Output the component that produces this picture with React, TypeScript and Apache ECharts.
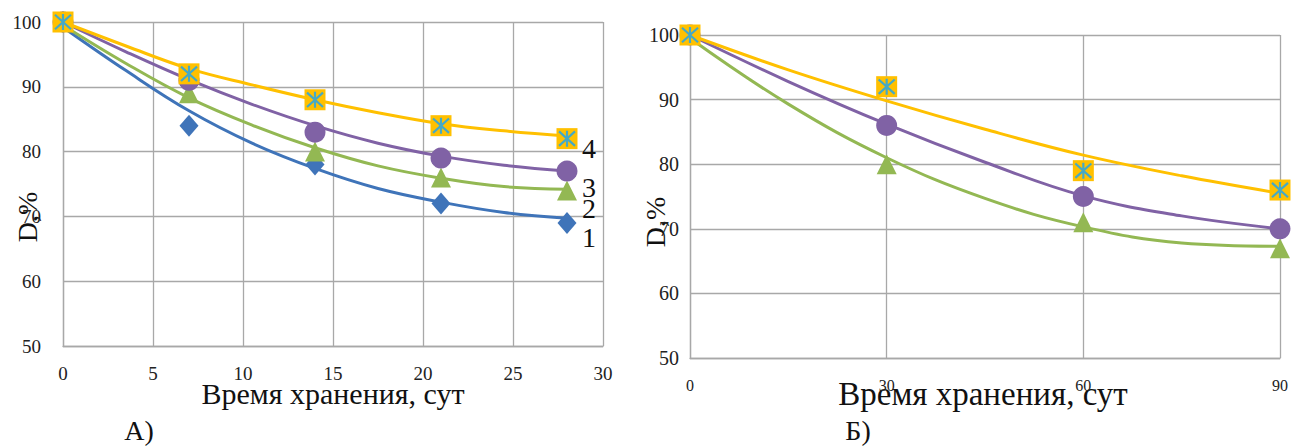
import React, { useEffect, useRef } from "react";
import * as echarts from "echarts";

// ---------- Chart A (storage up to 30 days) ----------
const daysA = [0, 7, 14, 21, 28];
const a1 = [100, 84, 78, 72, 69];
const a2 = [100, 89, 80, 76, 74];
const a3 = [100, 91, 83, 79, 77];
const a4 = [100, 92, 88, 84, 82];
// trend-curve readings
const trendDaysA = [0, 3.5, 7, 10.5, 14, 17.5, 21, 24.5, 28];
const ta1 = [99.2, 92.5, 86.3, 81.3, 77.4, 74.3, 72.2, 70.6, 69.7];
const ta2 = [99.5, 93.6, 88.3, 84.1, 80.6, 77.8, 75.9, 74.6, 74.2];
const ta3 = [100, 95.4, 91.1, 87.3, 84.0, 81.3, 79.3, 77.9, 77.0];
const ta4 = [100, 96.3, 92.8, 90.3, 88.0, 86.0, 84.3, 83.2, 82.4];
const curveLabels = ["1", "2", "3", "4"];

// ---------- Chart B (storage up to 90 days) ----------
const daysB = [0, 30, 60, 90];
const b2 = [100, 80, 71, 67];
const b3 = [100, 86, 75, 70];
const b4 = [100, 92, 79, 76];
const trendDaysB = [0, 15, 30, 45, 60, 75, 90];
const tb2 = [99.5, 89.3, 81.0, 74.7, 70.3, 67.8, 67.3];
const tb3 = [100, 92.8, 86.2, 80.3, 75.1, 72.0, 70.0];
const tb4 = [100, 94.6, 89.8, 85.4, 81.4, 78.2, 75.5];

const xTicksA = { min: 0, max: 30, interval: 5 };
const xTicksB = { min: 0, max: 90, interval: 30 };
const yTicks = { min: 50, max: 100, interval: 10 };

const C_BLUE = "#3f74b9";
const C_GREEN = "#93b853";
const C_PURPLE = "#8062a5";
const C_ORANGE = "#ffc000";
const C_TEAL = "#45a9c6";
const FONT = "Liberation Serif";
const STAR = "path://M10,0 L10,20 M1,1 L19,19 M19,1 L1,19";

const zip = (xs: number[], ys: number[]) => xs.map((x, i) => [x, ys[i]]);

function trend(idx: number, xs: number[], ys: number[], color: string) {
  return {
    type: "line",
    xAxisIndex: idx,
    yAxisIndex: idx,
    data: zip(xs, ys),
    smooth: 0.4,
    showSymbol: false,
    symbol: "none",
    lineStyle: { color, width: 3 },
    z: 2,
    silent: true,
  };
}

function marks(idx: number, xs: number[], ys: number[], symbol: string, size: any, color: string, z = 3) {
  return {
    type: "scatter",
    xAxisIndex: idx,
    yAxisIndex: idx,
    data: zip(xs, ys),
    symbol,
    symbolSize: size,
    itemStyle: { color, opacity: 1 },
    z,
    silent: true,
  };
}

function starMarks(idx: number, xs: number[], ys: number[]) {
  return {
    type: "scatter",
    xAxisIndex: idx,
    yAxisIndex: idx,
    data: zip(xs, ys),
    symbol: STAR,
    symbolSize: 16,
    itemStyle: { color: "none", borderColor: C_TEAL, borderWidth: 2.2, opacity: 1 },
    z: 6,
    silent: true,
  };
}

const gridLine = { show: true, lineStyle: { color: "#a8a8a8", width: 1.3 } };
const axisLine = { show: true, lineStyle: { color: "#a8a8a8", width: 1.3 } };

export default function App() {
  const ref = useRef<HTMLDivElement>(null);
  useEffect(() => {
    if (!ref.current) return;
    const chart = echarts.init(ref.current, undefined, { renderer: "svg" });
    // vertical positions of the labels "1".."4" at the right end of chart A
    const labelYA = [237, 208, 187, 148];
    chart.setOption({
      animation: false,
      backgroundColor: "#ffffff",
      grid: [
        { left: 63, top: 22, width: 540, height: 324 },
        { left: 690, top: 35, width: 590, height: 323 },
      ],
      xAxis: [
        {
          gridIndex: 0,
          type: "value",
          ...xTicksA,
          axisLine,
          axisTick: { show: false },
          splitLine: gridLine,
          axisLabel: { fontFamily: FONT, fontSize: 19, color: "#222", margin: 18 },
        },
        {
          gridIndex: 1,
          type: "value",
          ...xTicksB,
          axisLine,
          axisTick: { show: false },
          splitLine: gridLine,
          axisLabel: { fontFamily: FONT, fontSize: 16, color: "#222", margin: 19 },
        },
      ],
      yAxis: [
        {
          gridIndex: 0,
          type: "value",
          ...yTicks,
          axisLine,
          axisTick: { show: false },
          splitLine: gridLine,
          axisLabel: { fontFamily: FONT, fontSize: 19, color: "#222", margin: 22 },
        },
        {
          gridIndex: 1,
          type: "value",
          ...yTicks,
          axisLine,
          axisTick: { show: false },
          splitLine: gridLine,
          axisLabel: { fontFamily: FONT, fontSize: 20, color: "#222", margin: 11 },
        },
      ],
      series: [
        trend(0, trendDaysA, ta1, C_BLUE),
        trend(0, trendDaysA, ta2, C_GREEN),
        trend(0, trendDaysA, ta3, C_PURPLE),
        trend(0, trendDaysA, ta4, C_ORANGE),
        marks(0, daysA, a1, "diamond", [19, 22], C_BLUE),
        marks(0, daysA, a2, "triangle", 20, C_GREEN),
        marks(0, daysA, a3, "circle", 21, C_PURPLE),
        marks(0, daysA, a4, "rect", 21, C_ORANGE, 5),
        starMarks(0, daysA, a4),
        trend(1, trendDaysB, tb2, C_GREEN),
        trend(1, trendDaysB, tb3, C_PURPLE),
        trend(1, trendDaysB, tb4, C_ORANGE),
        marks(1, daysB, b2, "triangle", 20, C_GREEN),
        marks(1, daysB, b3, "circle", 21, C_PURPLE),
        marks(1, daysB, b4, "rect", 21, C_ORANGE, 5),
        starMarks(1, daysB, b4),
      ],
      graphic: [
        ...curveLabels.map((t, i) => ({
          type: "text",
          x: 582,
          y: labelYA[i],
          style: { text: t, fontFamily: FONT, fontSize: 28, fill: "#111", verticalAlign: "middle", align: "left" },
          z: 10,
        })),
        {
          type: "text",
          x: 333,
          y: 393,
          style: { text: "Время хранения, сут", fontFamily: FONT, fontSize: 30, fill: "#111", align: "center", verticalAlign: "middle" },
        },
        {
          type: "text",
          x: 983,
          y: 394,
          style: { text: "Время хранения, сут", fontFamily: FONT, fontSize: 33, fill: "#111", align: "center", verticalAlign: "middle" },
        },
        {
          type: "text",
          x: 139,
          y: 430,
          style: { text: "А)", fontFamily: FONT, fontSize: 28, fill: "#111", align: "center", verticalAlign: "middle" },
        },
        {
          type: "text",
          x: 858,
          y: 430,
          style: { text: "Б)", fontFamily: FONT, fontSize: 28, fill: "#111", align: "center", verticalAlign: "middle" },
        },
        {
          type: "text",
          x: 27,
          y: 217,
          rotation: Math.PI / 2,
          style: { text: "D,%", fontFamily: FONT, fontSize: 28, fill: "#111", align: "center", verticalAlign: "middle" },
        },
        {
          type: "text",
          x: 655,
          y: 222,
          rotation: Math.PI / 2,
          style: { text: "D,%", fontFamily: FONT, fontSize: 28, fill: "#111", align: "center", verticalAlign: "middle" },
        },
      ],
    });
    return () => chart.dispose();
  }, []);
  return (
    <div
      ref={ref}
      style={{ position: "absolute", left: 0, top: 0, width: 1293, height: 447 }}
    />
  );
}
